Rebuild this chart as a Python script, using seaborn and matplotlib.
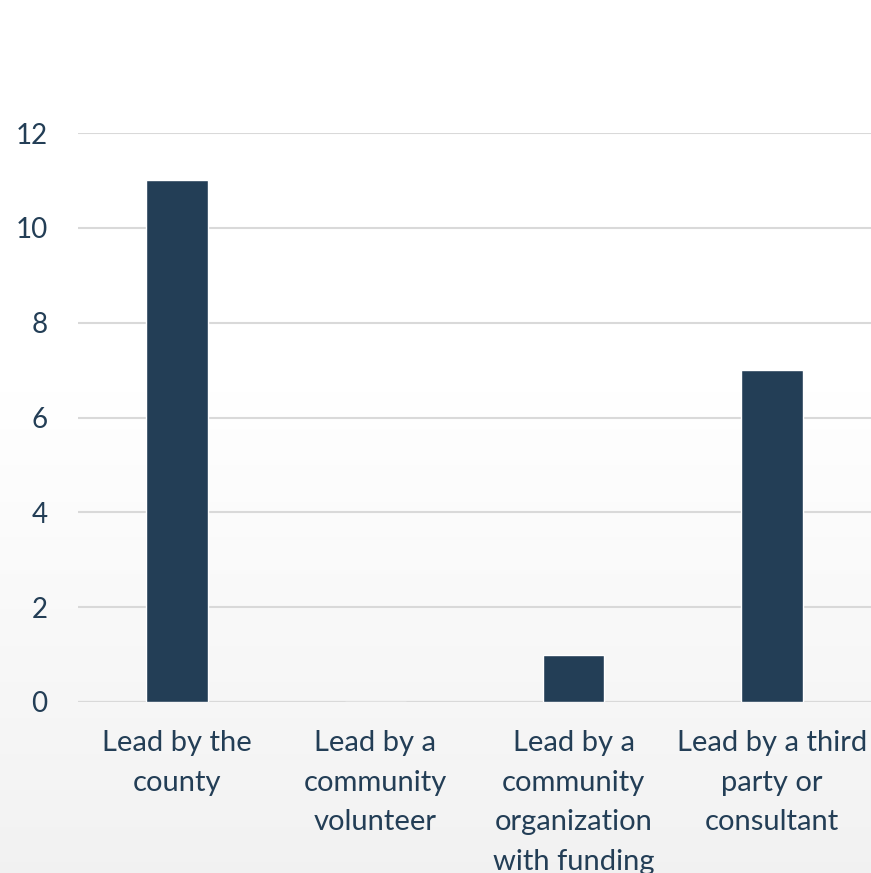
import numpy as np
import matplotlib
matplotlib.use("Agg")
import matplotlib.pyplot as plt
import seaborn as sns

categories = [
    "Lead by the\ncounty",
    "Lead by a\ncommunity\nvolunteer",
    "Lead by a\ncommunity\norganization\nwith funding",
    "Lead by a third\nparty or\nconsultant",
]
counts = [11, 0, 1, 7]
y_ticks = [0, 2, 4, 6, 8, 10, 12]

bar_color = "#233E56"
text_color = "#233E56"
grid_color = "#D9D9D9"

sns.set_theme(style="white")
plt.rcParams["font.family"] = ["Lato", "DejaVu Sans"]

W, H, DPI = 871, 873, 100
fig = plt.figure(figsize=(W / DPI, H / DPI), dpi=DPI)

# soft vertical background gradient: white at top, light grey at bottom
bg = fig.add_axes([0, 0, 1, 1], zorder=-10)
rows = np.linspace(0, 1, 400)
shade = np.clip((rows - 0.45) / 0.55, 0, 1)
vals = 1.0 - 0.052 * shade
img = np.repeat(vals[:, None], 2, axis=1)
bg.imshow(np.dstack([img, img, img]), aspect="auto", extent=[0, 1, 1, 0])
bg.set_xlim(0, 1)
bg.set_ylim(1, 0)
bg.axis("off")

# plot area: x 78..871 px, y value 0 at 702 px, 12 at 133 px
left = 78 / W
right = 871 / W
bottom = 1 - 702 / H
top = 1 - 133 / H
ax = fig.add_axes([left, bottom, right - left, top - bottom])
ax.set_facecolor("none")

sns.barplot(x=categories, y=counts, color=bar_color, width=0.31,
            saturation=1, ax=ax, zorder=3)

ax.set_ylim(0, 12)
ax.set_xlim(-0.5, 3.5)
ax.set_yticks(y_ticks)
ax.set_yticklabels([str(t) for t in y_ticks])
ax.yaxis.grid(True, color=grid_color, linewidth=1.5, zorder=0)
ax.set_axisbelow(True)
for s in ax.spines.values():
    s.set_visible(False)
ax.axhline(0, color=grid_color, linewidth=1.5, zorder=1)

ax.tick_params(axis="y", length=0, pad=22, labelsize=20, labelcolor=text_color)
ax.tick_params(axis="x", length=0, pad=20.5, labelsize=21, labelcolor=text_color)
for lbl in ax.get_xticklabels():
    lbl.set_linespacing(1.64)
    lbl.set_verticalalignment("top")
ax.set_xlabel("")
ax.set_ylabel("")

fig.savefig("out.png", dpi=DPI)
